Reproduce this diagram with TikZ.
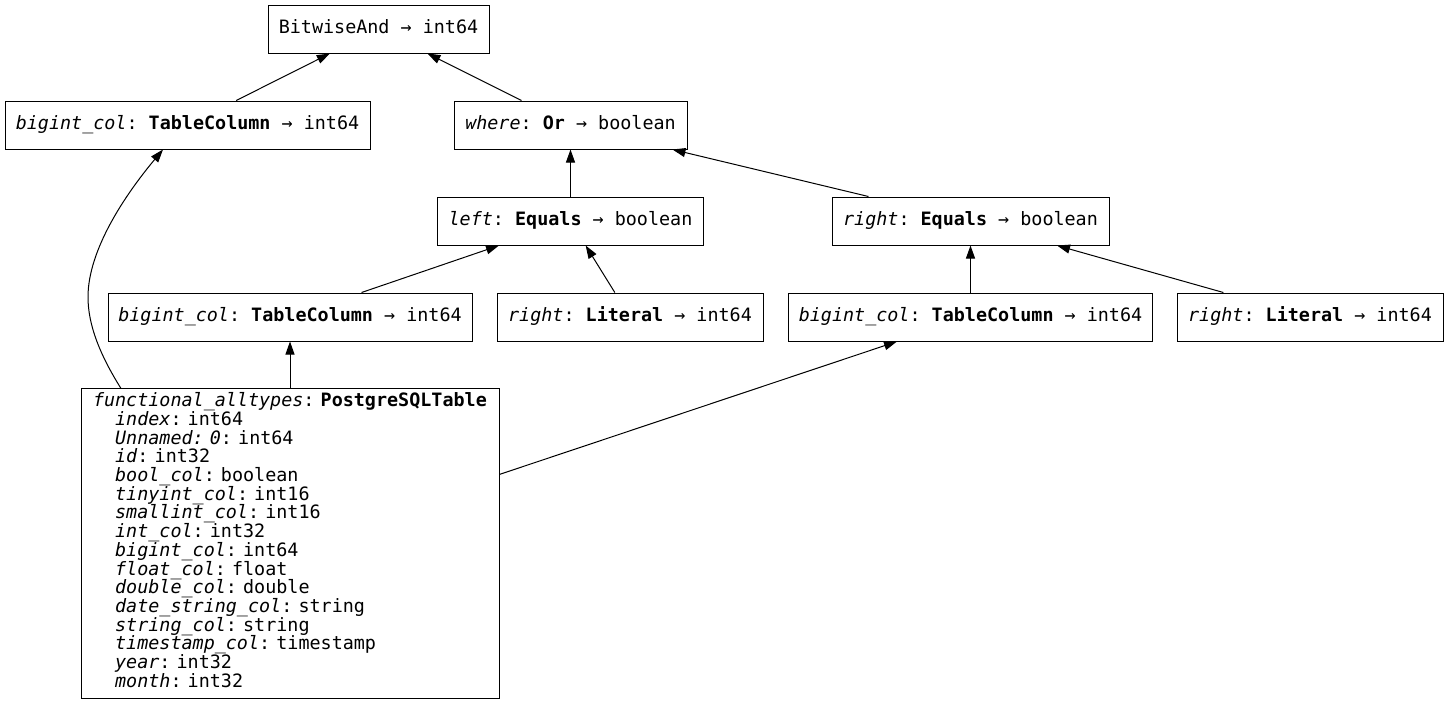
\documentclass[tikz,border=0pt]{standalone}
\usepackage{fontspec}
\setmainfont{DejaVu Sans Mono}[ItalicFont={DejaVu Sans Mono Oblique},BoldFont={DejaVu Sans Mono Bold},BoldItalicFont={DejaVu Sans Mono Bold Oblique}]
\usetikzlibrary{arrows.meta}
\frenchspacing
\tikzset{
  box/.style={draw=black, line width=1pt, fill=white, inner sep=0pt, minimum height=48pt, text height=13.9pt, text depth=4pt, font=\fontsize{18.4}{20}\selectfont\frenchspacing},
  edge/.style={draw=black, line width=1pt, -{Triangle[length=13pt,width=9pt]}},
  tablebox/.style={draw=black, line width=1pt, fill=white, inner xsep=12pt, inner ysep=0pt, text width=394pt, align=left, minimum width=418pt, minimum height=309pt, font=\fontsize{18.4}{18.67}\selectfont\frenchspacing}
}
\newcommand{\ind}{\hspace*{1.204em}}
\begin{document}
\begin{tikzpicture}[x=1pt,y=-1pt]
\useasboundingbox[fill=white] (0,0) rectangle (1449,704);
\node[box, minimum width=221pt] (n0) at (378.5,29) {BitwiseAnd → int64};
\node[box, minimum width=365pt] (b1) at (187.5,125) {\textit{bigint\_col}: \textbf{TableColumn} → int64};
\node[box, minimum width=233pt] (wh) at (570.5,125) {\textit{where}: \textbf{Or} → boolean};
\node[box, minimum width=266pt] (le) at (570.5,221) {\textit{left}: \textbf{Equals} → boolean};
\node[box, minimum width=277pt] (re) at (970.5,221) {\textit{right}: \textbf{Equals} → boolean};
\node[box, minimum width=364pt] (b2) at (290,317) {\textit{bigint\_col}: \textbf{TableColumn} → int64};
\node[box, minimum width=266pt] (l1) at (630,317) {\textit{right}: \textbf{Literal} → int64};
\node[box, minimum width=364pt] (b3) at (970.5,317) {\textit{bigint\_col}: \textbf{TableColumn} → int64};
\node[box, minimum width=266pt] (l2) at (1310,317) {\textit{right}: \textbf{Literal} → int64};
\node[tablebox] (tbl) at (290,543.5) {\rule{0pt}{18pt}\mbox{\textit{functional\_alltypes}: \textbf{PostgreSQLTable}}\\
\ind\textit{index}: int64\\
\ind\textit{Unnamed: 0}: int64\\
\ind\textit{id}: int32\\
\ind\textit{bool\_col}: boolean\\
\ind\textit{tinyint\_col}: int16\\
\ind\textit{smallint\_col}: int16\\
\ind\textit{int\_col}: int32\\
\ind\textit{bigint\_col}: int64\\
\ind\textit{float\_col}: float\\
\ind\textit{double\_col}: double\\
\ind\textit{date\_string\_col}: string\\
\ind\textit{string\_col}: string\\
\ind\textit{timestamp\_col}: timestamp\\
\ind\textit{year}: int32\\
\ind\textit{month}: int32\rule[-11pt]{0pt}{11pt}};
\draw[edge] (b1) -- (n0);
\draw[edge] (wh) -- (n0);
\draw[edge] (le) -- (wh);
\draw[edge] (re) -- (wh);
\draw[edge] (b2) -- (le);
\draw[edge] (l1) -- (le);
\draw[edge] (b3) -- (re);
\draw[edge] (l2) -- (re);
\draw[edge] (tbl) -- (b2);
\draw[edge] (tbl) -- (b3);
\draw[edge] ([xshift=-169pt]tbl.north) .. controls (100,355) and (88,325) .. (88,297) .. controls (88,250) and (125,195) .. ([xshift=-24.5pt]b1.south);
\end{tikzpicture}
\end{document}
